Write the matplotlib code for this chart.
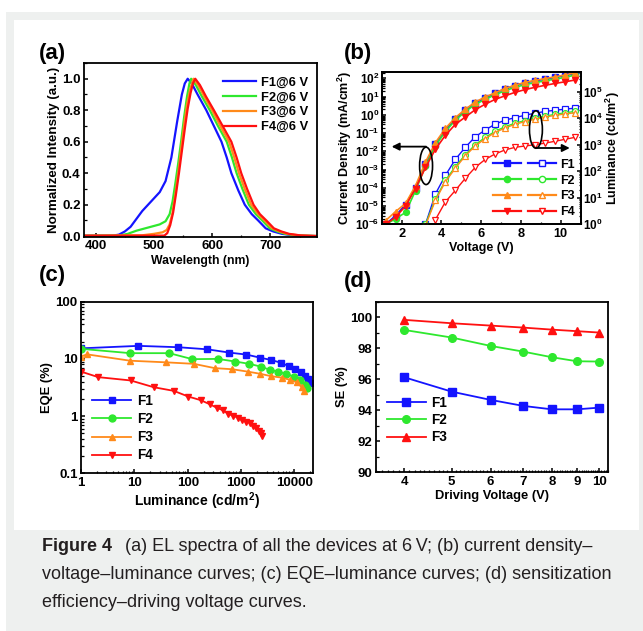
#!/usr/bin/env python3
"""Recreate Figure 4: EL spectra, J-V-L, EQE-L and SE-V panels."""
import math

import matplotlib

matplotlib.use("Agg")
import matplotlib.pyplot as plt
from matplotlib.legend_handler import HandlerTuple
from matplotlib.lines import Line2D
from matplotlib.patches import Ellipse, Rectangle
from matplotlib.ticker import (FixedLocator, FuncFormatter, LogLocator,
                               MultipleLocator, NullFormatter)

W, H = 643, 631
BLUE, GREEN, ORANGE, RED = "#1414ff", "#2ee82e", "#ff8a1a", "#ff1010"

# ---- (a) EL spectra at 6 V
wl_f1 = [380, 430, 440, 450, 460, 470, 480, 490, 500, 510, 520, 530, 540, 548, 553, 558,
         565, 575, 590, 603, 616, 625, 633, 645, 656, 668, 679, 692, 705, 720, 740, 760, 780]
el_f1 = [0.003, 0.004, 0.01, 0.03, 0.06, 0.11, 0.16, 0.20, 0.24, 0.28, 0.35, 0.50, 0.73, 0.90, 0.97, 1.0,
         0.97, 0.90, 0.80, 0.70, 0.60, 0.50, 0.40, 0.29, 0.20, 0.14, 0.10, 0.05, 0.03, 0.015, 0.005, 0.002, 0.001]
wl_f2 = [380, 440, 455, 470, 490, 510, 520, 527, 532, 537, 542, 547, 552, 557, 561, 564,
         572, 582, 596, 610, 625, 634, 642, 652, 663, 675, 686, 699, 712, 725, 745, 770, 780]
el_f2 = [0.003, 0.004, 0.015, 0.035, 0.055, 0.075, 0.095, 0.14, 0.22, 0.34, 0.47, 0.61, 0.76, 0.89, 0.97, 1.0,
         0.96, 0.89, 0.80, 0.70, 0.60, 0.50, 0.40, 0.30, 0.20, 0.14, 0.10, 0.05, 0.03, 0.015, 0.005, 0.002, 0.001]
wl_f3 = [380, 480, 500, 515, 522, 527, 532, 537, 542, 547, 552, 557, 562, 568,
         576, 586, 600, 614, 629, 638, 646, 656, 667, 679, 690, 703, 716, 729, 750, 780]
el_f3 = [0.003, 0.006, 0.015, 0.025, 0.04, 0.075, 0.15, 0.27, 0.41, 0.56, 0.71, 0.84, 0.93, 1.0,
         0.96, 0.89, 0.80, 0.70, 0.60, 0.50, 0.40, 0.30, 0.20, 0.14, 0.10, 0.05, 0.03, 0.015, 0.005, 0.001]
wl_f4 = [380, 518, 523, 528, 533, 538, 543, 548, 553, 558, 563, 567, 571,
         579, 589, 603, 618, 633, 642, 650, 660, 671, 682, 693, 706, 719, 732, 752, 780]
el_f4 = [0.003, 0.004, 0.02, 0.07, 0.15, 0.27, 0.40, 0.54, 0.68, 0.81, 0.91, 0.97, 1.0,
         0.96, 0.89, 0.80, 0.70, 0.60, 0.50, 0.40, 0.30, 0.20, 0.14, 0.10, 0.05, 0.03, 0.015, 0.005, 0.001]

# ---- (b) current density (mA/cm2) and luminance (cd/m2) vs voltage
v_j = [1.2, 1.7, 2.2, 2.7, 3.2, 3.7, 4.2, 4.7, 5.2, 5.7, 6.2, 6.7, 7.2, 7.7, 8.2, 8.7, 9.2, 9.7, 10.2, 10.7]
j_f1 = [1.0e-6, 3e-6, 1.2e-5, 1e-4, 2e-3, 2.5e-2, 0.15, 0.6, 1.8, 4.5, 8.5, 15, 27, 40, 57, 72, 90, 112, 140, 185]
j_f2 = [1.0e-6, 2e-6, 4.5e-6, 7e-5, 1.5e-3, 2e-2, 0.12, 0.5, 1.5, 3.7, 7, 12.5, 21, 32, 45, 58, 72, 90, 112, 150]
j_f3 = [1.6e-6, 5e-6, 1.4e-5, 1.3e-4, 2.6e-3, 3e-2, 0.18, 0.7, 2.0, 5.0, 9.5, 16, 28, 42, 60, 77, 96, 120, 150, 200]
j_f4 = [1.0e-6, 2.5e-6, 1e-5, 9e-5, 1.3e-3, 1.3e-2, 0.075, 0.3, 0.75, 1.9, 3.8, 7, 11, 17, 24, 32, 41, 52, 64, 80]
v_l = [3.2, 3.7, 4.2, 4.7, 5.2, 5.7, 6.2, 6.7, 7.2, 7.7, 8.2, 8.7, 9.2, 9.7, 10.2, 10.7]
l_f1 = [1.0, 14, 70, 280, 800, 2000, 3600, 6000, 8500, 10500, 13000, 15500, 18000, 20000, 22000, 24000]
l_f2 = [1.0, 9, 45, 150, 420, 1000, 1900, 3200, 4800, 6500, 8200, 10000, 12000, 14000, 16000, 18000]
l_f3 = [0.9, 8, 40, 130, 380, 900, 1700, 2900, 4300, 5900, 7500, 9200, 11000, 12800, 14500, 16000]
v_l4 = [3.7, 4.2, 4.7, 5.2, 5.7, 6.2, 6.7, 7.2, 7.7, 8.2, 8.7, 9.2, 9.7, 10.2, 10.7]
l_f4 = [1.5, 7, 19, 54, 140, 280, 450, 640, 800, 900, 1000, 1150, 1350, 1600, 1900]

# ---- (c) EQE (%) vs luminance (cd/m2)
lum_f1 = [1.0, 11.9, 67, 234, 596, 1260, 2270, 3620, 5500, 7750, 10300, 13200, 15600, 17800, 19600]
eqe_f1 = [15.3, 16.9, 16.0, 14.7, 12.9, 11.9, 10.5, 9.6, 8.6, 7.5, 6.6, 5.8, 5.0, 4.4, 3.8]
lum_f2 = [1.0, 8.3, 45, 122, 366, 776, 1420, 2400, 3500, 5000, 6900, 9800, 12600, 15800, 17400]
eqe_f2 = [15.0, 12.6, 12.6, 9.9, 10.0, 9.0, 8.2, 7.3, 6.4, 6.0, 5.5, 4.9, 4.2, 3.5, 3.1]
lum_f3 = [1.0, 1.3, 8.3, 40, 130, 320, 680, 1320, 2270, 3600, 5800, 8300, 11000, 13700, 15200]
eqe_f3 = [11.0, 12.0, 9.3, 8.7, 8.2, 6.9, 6.6, 6.0, 5.5, 5.0, 4.7, 4.3, 3.9, 3.2, 2.7]
lum_f4 = [1.0, 2.1, 8.5, 23, 55, 102, 175, 263, 350, 450, 575, 710, 890, 1030, 1230, 1450,
          1680, 1940, 2180, 2340, 2500]
eqe_f4 = [6.0, 4.8, 4.2, 3.2, 2.76, 2.2, 1.9, 1.6, 1.4, 1.27, 1.1, 1.01, 0.94, 0.85, 0.80, 0.77,
          0.68, 0.61, 0.56, 0.50, 0.45]

# ---- (d) sensitization efficiency (%) vs driving voltage (V)
v_se = [4, 5, 6, 7, 8, 9, 10]
se_f1 = [96.13, 95.2, 94.67, 94.28, 94.06, 94.06, 94.17]
se_f2 = [99.18, 98.69, 98.15, 97.78, 97.42, 97.16, 97.14]
se_f3 = [99.83, 99.61, 99.46, 99.33, 99.2, 99.1, 99.01]

CAPTION_1 = "(a) EL spectra of all the devices at 6\u2009V; (b) current density\u2013"
CAPTION_2 = "voltage\u2013luminance curves; (c) EQE\u2013luminance curves; (d) sensitization"
CAPTION_3 = "efficiency\u2013driving voltage curves."


def setup_style() -> None:
    plt.rcParams.update({
        "font.family": ["Liberation Sans", "DejaVu Sans"],
        "font.weight": "bold",
        "axes.labelweight": "bold",
        "font.size": 9.3,
        "axes.labelsize": 9.3,
        "xtick.labelsize": 9.5,
        "ytick.labelsize": 9.5,
        "legend.fontsize": 9.3,
        "mathtext.fontset": "custom",
        "mathtext.rm": "Liberation Sans:bold",
        "mathtext.bf": "Liberation Sans:bold",
        "mathtext.it": "Liberation Sans:bold",
        "mathtext.default": "bf",
        "axes.linewidth": 1.3,
        "xtick.direction": "in",
        "ytick.direction": "in",
        "xtick.major.size": 3.2,
        "ytick.major.size": 3.2,
        "xtick.minor.size": 1.8,
        "ytick.minor.size": 1.8,
        "xtick.major.width": 1.1,
        "ytick.major.width": 1.1,
        "xtick.minor.width": 0.9,
        "ytick.minor.width": 0.9,
        "xtick.major.pad": 2.5,
        "ytick.major.pad": 2.5,
        "axes.labelpad": 1.5,
        "legend.frameon": False,
    })


def px_axes(fig, left, top, right, bottom):
    return fig.add_axes([left / W, 1 - bottom / H, (right - left) / W, (bottom - top) / H])


def pow10(val, _pos):
    if val <= 0:
        return ""
    return r"$\mathbf{10^{%d}}$" % int(round(math.log10(val)))


def plain(val, _pos):
    return f"{val:g}"


def plot_spectra(fig):
    ax = px_axes(fig, 84, 63, 317, 237)
    for wl, el, c, lab in [(wl_f1, el_f1, BLUE, "F1@6 V"), (wl_f2, el_f2, GREEN, "F2@6 V"),
                           (wl_f3, el_f3, ORANGE, "F3@6 V"), (wl_f4, el_f4, RED, "F4@6 V")]:
        ax.plot(wl, el, color=c, lw=1.6, label=lab)
    ax.set_xlim(380, 780)
    ax.set_ylim(-0.005, 1.1)
    ax.xaxis.set_major_locator(FixedLocator([400, 500, 600, 700]))
    ax.xaxis.set_minor_locator(MultipleLocator(50))
    ax.yaxis.set_major_locator(MultipleLocator(0.2))
    ax.yaxis.set_minor_locator(MultipleLocator(0.1))
    ax.yaxis.set_major_formatter(FuncFormatter(lambda v, p: f"{v:.1f}"))
    ax.set_xlabel("Wavelength (nm)", fontsize=8.8)
    ax.set_ylabel("Normalized Intensity (a.u.)", fontsize=9.6)
    ax.legend(loc="upper right", bbox_to_anchor=(1.0, 0.975), handlelength=2.5,
              handletextpad=0.4, labelspacing=0.22, borderaxespad=0.3)
    fig.text(52 / W, 1 - 54 / H, "(a)", fontsize=16, ha="center", va="center")


def plot_jvl(fig):
    ax = px_axes(fig, 381.7, 71.7, 580.7, 224.3)
    ax2 = ax.twinx()
    series = [(j_f1, v_l, l_f1, BLUE, "s"), (j_f2, v_l, l_f2, GREEN, "o"),
              (j_f3, v_l, l_f3, ORANGE, "^"), (j_f4, v_l4, l_f4, RED, "v")]
    handles = []
    for jv, vl, lv, c, m in series:
        ax.plot(v_j, jv, color=c, lw=1.2, marker=m, ms=4.2, mec=c, mfc=c)
        ax2.plot(vl, lv, color=c, lw=1.0, marker=m, ms=4.2, mec=c, mfc="white", mew=0.9)
        filled = Line2D([], [], color=c, lw=1.6, marker=m, ms=4.5, mfc=c, mec=c)
        hollow = Line2D([], [], color=c, lw=1.6, marker=m, ms=4.5, mfc="white", mec=c)
        handles.append((filled, hollow))
    ax.set_xlim(1, 11)
    ax.set_yscale("log")
    ax.set_ylim(1e-6, 230)
    ax2.set_yscale("log")
    ax2.set_ylim(1, 5.7e5)
    ax.xaxis.set_major_locator(MultipleLocator(2))
    ax.xaxis.set_minor_locator(MultipleLocator(1))
    for a, ticks in [(ax, [1e-6, 1e-5, 1e-4, 1e-3, 1e-2, 1e-1, 1, 10, 100]),
                     (ax2, [1, 10, 100, 1e3, 1e4, 1e5])]:
        a.yaxis.set_major_locator(FixedLocator(ticks))
        a.yaxis.set_major_formatter(FuncFormatter(pow10))
        a.yaxis.set_minor_locator(LogLocator(subs=(2, 3, 4, 5, 6, 7, 8, 9), numticks=20))
        a.yaxis.set_minor_formatter(NullFormatter())
    ax.tick_params(axis="y", labelsize=8.5, pad=1.5)
    ax2.tick_params(axis="y", labelsize=8.5, pad=1.5)
    ax.tick_params(axis="x", labelsize=9.2)
    ax.set_xlabel("Voltage (V)", fontsize=9.0)
    ax.set_ylabel("Current Density (mA/cm$^2$)", labelpad=0.5, fontsize=9.0)
    ax2.set_ylabel("Luminance (cd/m$^2$)", labelpad=1, fontsize=9.0)

    ax2.add_patch(Ellipse((0.223, 0.383), 0.065, 0.245, transform=ax2.transAxes,
                          fill=False, ec="black", lw=1.2, zorder=6))
    ax2.add_patch(Ellipse((0.775, 0.621), 0.065, 0.245, transform=ax2.transAxes,
                          fill=False, ec="black", lw=1.2, zorder=6))
    arrow = dict(arrowstyle="-|>", color="black", lw=1.3, mutation_scale=11, shrinkA=0, shrinkB=0)
    ax2.annotate("", xy=(0.05, 0.509), xytext=(0.223, 0.509), xycoords="axes fraction",
                 textcoords="axes fraction", arrowprops=arrow, zorder=6)
    ax2.annotate("", xy=(0.945, 0.50), xytext=(0.775, 0.50), xycoords="axes fraction",
                 textcoords="axes fraction", arrowprops=arrow, zorder=6)
    ax2.legend(handles, ["F1", "F2", "F3", "F4"], loc="lower right", fontsize=9.0,
               bbox_to_anchor=(1.0, 0.0), handler_map={tuple: HandlerTuple(ndivide=None, pad=0.6)},
               handlelength=5.0, handletextpad=0.3, labelspacing=0.3, borderaxespad=0.1)
    fig.text(358 / W, 1 - 54 / H, "(b)", fontsize=16, ha="center", va="center")


def plot_eqe(fig):
    ax = px_axes(fig, 81, 301.7, 312.7, 473.3)
    for lum, eqe, c, m, lab in [(lum_f1, eqe_f1, BLUE, "s", "F1"), (lum_f2, eqe_f2, GREEN, "o", "F2"),
                                (lum_f3, eqe_f3, ORANGE, "^", "F3"), (lum_f4, eqe_f4, RED, "v", "F4")]:
        ax.plot(lum, eqe, color=c, lw=1.3, marker=m, ms=5, mec=c, mfc=c, label=lab)
    ax.set_xscale("log")
    ax.set_yscale("log")
    ax.set_xlim(1, 2.2e4)
    ax.set_ylim(0.1, 100)
    ax.xaxis.set_major_locator(FixedLocator([1, 10, 100, 1000, 10000]))
    ax.yaxis.set_major_locator(FixedLocator([0.1, 1, 10, 100]))
    for axis in (ax.xaxis, ax.yaxis):
        axis.set_major_formatter(FuncFormatter(plain))
        axis.set_minor_locator(LogLocator(subs=(2, 3, 4, 5, 6, 7, 8, 9), numticks=20))
        axis.set_minor_formatter(NullFormatter())
    ax.set_xlabel("Luminance (cd/m$^2$)", fontsize=10)
    ax.set_ylabel("EQE (%)")
    ax.legend(loc="lower left", bbox_to_anchor=(0.0, 0.0), handlelength=2.9, fontsize=9.8,
              handletextpad=0.4, labelspacing=0.3, borderaxespad=0.4)
    fig.text(52 / W, 1 - 276 / H, "(c)", fontsize=16, ha="center", va="center")


def plot_se(fig):
    ax = px_axes(fig, 375.7, 301.7, 607.7, 472.3)
    for se, c, m, lab in [(se_f1, BLUE, "s", "F1"), (se_f2, GREEN, "o", "F2"), (se_f3, RED, "^", "F3")]:
        ax.plot(v_se, se, color=c, lw=1.3, marker=m, ms=5.5, mec=c, mfc=c, label=lab)
    ax.set_xscale("log")
    ax.set_xlim(3.5, 10.4)
    ax.set_ylim(90, 101)
    ax.xaxis.set_major_locator(FixedLocator(v_se))
    ax.xaxis.set_major_formatter(FuncFormatter(plain))
    ax.xaxis.set_minor_locator(MultipleLocator(0.1))
    ax.xaxis.set_minor_formatter(NullFormatter())
    ax.yaxis.set_major_locator(MultipleLocator(2))
    ax.yaxis.set_minor_locator(MultipleLocator(1))
    ax.set_xlabel("Driving Voltage (V)")
    ax.set_ylabel("SE (%)")
    ax.legend(loc="lower left", bbox_to_anchor=(0.0, 0.1), handlelength=2.9, fontsize=9.8,
              handletextpad=0.4, labelspacing=0.25, borderaxespad=0.4)
    fig.text(358 / W, 1 - 282 / H, "(d)", fontsize=16, ha="center", va="center")


def draw_frame(fig):
    fig.add_artist(Rectangle((6 / W, 0), 1 - 6 / W, 1 - 12 / H, transform=fig.transFigure,
                             facecolor="#eef0ef", edgecolor="none", zorder=-20))
    fig.add_artist(Rectangle((14 / W, 1 - 530 / H), (639 - 14) / W, (530 - 20) / H,
                             transform=fig.transFigure, facecolor="white", edgecolor="none", zorder=-19))
    cap = dict(fontsize=13.0, color="#231f20", va="baseline", family=["Liberation Sans", "DejaVu Sans"])
    head = fig.text(42 / W, 1 - 551 / H, "Figure 4", weight="bold", **cap)
    renderer = fig.canvas.get_renderer()
    x_end = head.get_window_extent(renderer).x1
    fig.text((x_end + 13) / W, 1 - 551 / H, CAPTION_1, weight="normal", **cap)
    fig.text(42 / W, 1 - 579 / H, CAPTION_2, weight="normal", **cap)
    fig.text(42 / W, 1 - 607 / H, CAPTION_3, weight="normal", **cap)


def main() -> None:
    setup_style()
    fig = plt.figure(figsize=(W / 100, H / 100), dpi=100)
    draw_frame(fig)
    plot_spectra(fig)
    plot_jvl(fig)
    plot_eqe(fig)
    plot_se(fig)
    fig.savefig("out.png", dpi=100)
    plt.close(fig)


if __name__ == "__main__":
    main()
